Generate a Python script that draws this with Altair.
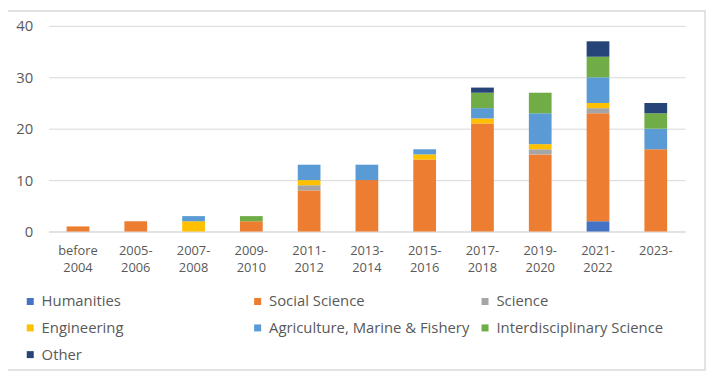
import altair as alt
import pandas as pd

periods = ["before 2004", "2005-2006", "2007-2008", "2009-2010", "2011-2012",
           "2013-2014", "2015-2016", "2017-2018", "2019-2020", "2021-2022", "2023-"]
period_labels = ["before\n2004", "2005-\n2006", "2007-\n2008", "2009-\n2010", "2011-\n2012",
                 "2013-\n2014", "2015-\n2016", "2017-\n2018", "2019-\n2020", "2021-\n2022", "2023-"]
fields = ["Humanities", "Social Science", "Science", "Engineering",
          "Agriculture, Marine & Fishery", "Interdisciplinary Science", "Other"]
colors = ["#4472C4", "#ED7D31", "#A5A5A5", "#FFC000", "#5B9BD5", "#70AD47", "#264478"]

humanities     = [0, 0, 0, 0, 0, 0, 0, 0, 0, 2, 0]
social_science = [1, 2, 0, 2, 8, 10, 14, 21, 15, 21, 16]
science        = [0, 0, 0, 0, 1, 0, 0, 0, 1, 1, 0]
engineering    = [0, 0, 2, 0, 1, 0, 1, 1, 1, 1, 0]
agriculture    = [0, 0, 1, 0, 3, 3, 1, 2, 6, 5, 4]
interdisc      = [0, 0, 0, 1, 0, 0, 0, 3, 4, 4, 3]
other          = [0, 0, 0, 0, 0, 0, 0, 1, 0, 3, 2]

series = [humanities, social_science, science, engineering, agriculture, interdisc, other]
rows = []
for fi, (f, vals) in enumerate(zip(fields, series)):
    for p, pl, v in zip(periods, period_labels, vals):
        rows.append({"period": pl, "field": f, "count": v, "order": fi})
df = pd.DataFrame(rows)

W, H = 644, 208
FONT = "Open Sans"
TXT = "#595959"

bars = alt.Chart(df).mark_bar(size=23).encode(
    x=alt.X("period:N", sort=period_labels, title=None,
            scale=alt.Scale(paddingInner=0.6, paddingOuter=0.31),
            axis=alt.Axis(labelExpr="split(datum.label, '\\n')", labelAngle=0,
                          ticks=False, domainColor="#D9D9D9", labelColor=TXT,
                          labelFontSize=13, labelFont=FONT, labelPadding=13,
                          labelLineHeight=17)),
    y=alt.Y("count:Q", stack="zero", title=None,
            scale=alt.Scale(domain=[0, 40]),
            axis=alt.Axis(values=[0, 10, 20, 30, 40], ticks=False, domain=False,
                          gridColor="#D9D9D9", labelColor=TXT, labelFontSize=15,
                          labelFont=FONT, labelPadding=16)),
    color=alt.Color("field:N",
                    scale=alt.Scale(domain=fields, range=colors),
                    legend=alt.Legend(title=None, orient="none", legendX=-26, legendY=271,
                                      direction="horizontal",
                                      columns=3, gridAlign="all", columnPadding=8,
                                      rowPadding=11, padding=0, values=fields,
                                      symbolType="square", symbolSize=50,
                                      symbolStrokeWidth=0, labelFontSize=15,
                                      labelFont=FONT, labelColor=TXT,
                                      labelLimit=400)),
    order=alt.Order("order:Q", sort="ascending"),
)

border = alt.Chart(pd.DataFrame({"a": [0]})).mark_rect(
    fill=None, stroke="#D9D9D9", strokeWidth=1.5
).encode(x=alt.value(-44), x2=alt.value(W + 20), y=alt.value(-15), y2=alt.value(H + 140))

chart = alt.layer(border, bars).properties(
    width=W, height=H,
    autosize=alt.AutoSizeParams(type="none"),
    padding={"left": 41, "top": 16, "right": 22, "bottom": 141},
).configure_view(stroke=None)

chart.save("out.html", embed_options={"renderer": "svg", "actions": False})
